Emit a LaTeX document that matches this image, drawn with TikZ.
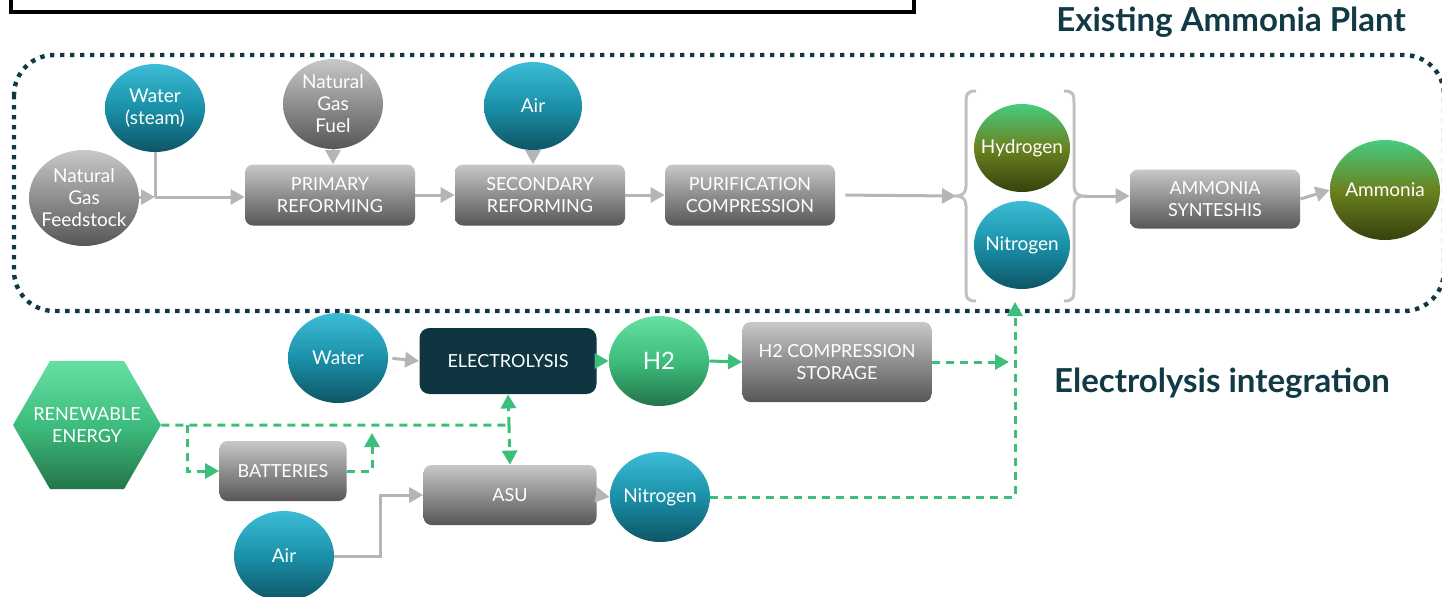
\documentclass[tikz,border=0pt]{standalone}
\usepackage{fontspec}
\setmainfont{Lato}
\usetikzlibrary{arrows.meta,shapes.geometric,calc}
\definecolor{titleC}{HTML}{123A45}
\definecolor{dotC}{HTML}{0F3A45}
\definecolor{lineC}{HTML}{B5B5B5}
\definecolor{grnC}{HTML}{3CBF7A}
\definecolor{elC}{HTML}{0F3540}
\definecolor{tealL}{HTML}{3CBCD6}
\definecolor{tealM}{HTML}{1A90A8}
\definecolor{tealD}{HTML}{0D5565}
\definecolor{grayL}{HTML}{C8C8C8}
\definecolor{grayM}{HTML}{8E8E8E}
\definecolor{grayD}{HTML}{575757}
\definecolor{grnL}{HTML}{66E0A2}
\definecolor{grnM}{HTML}{3DBD7D}
\definecolor{grnD}{HTML}{237549}
\definecolor{oliveL}{HTML}{45CC80}
\definecolor{oliveM}{HTML}{6A821F}
\definecolor{oliveD}{HTML}{36420D}
\begin{document}
\begin{tikzpicture}[x = 0.5pt, y = -0.5pt, every node/.style={anchor = center, font = \fontsize{9}{11}\selectfont, text = white, align = center},
  ball/.style={ellipse, inner sep = -10pt, minimum width = 50pt, minimum height = 45pt, font = \fontsize{9.5}{11}\selectfont},
  tealball/.style={ball, top color = tealL, bottom color = tealD, middle color = tealM},
  grayball/.style={ball, top color = grayL, bottom color = grayD, middle color = grayM},
  grnball/.style={ball, top color = grnL, bottom color = grnD, middle color = grnM},
  oliveball/.style={ball, top color = oliveL, bottom color = oliveD, middle color = oliveM},
  graybox/.style={rounded corners = 4pt, minimum width = 85pt, minimum height = 30.5pt, top color = grayL, bottom color = grayD, middle color = grayM},
  darkbox/.style={rounded corners = 5pt, fill = elC, minimum width = 88.5pt, minimum height = 33pt},
  title/.style={font = \fontsize{16.5}{19}\selectfont\bfseries, text = titleC},
  garrow/.style={draw = lineC, line width = 1.5pt, -{Triangle[length = 7pt, width = 7.5pt]}},
  gline/.style={draw = lineC, line width = 1.5pt},
  grnarrow/.style={draw = grnC, line width = 1.5pt, -{Triangle[length = 7pt, width = 7.5pt]}},
  grndash/.style={draw = grnC, line width = 1.5pt, dash pattern = on 4pt off 3pt},
  bracket/.style={draw = lineC!85!white, line width = 1.5pt}]
\useasboundingbox (0,0) rectangle (1442,596);
\draw[line width = 2pt] (11,-40) rectangle (914,12);
\draw[dotC, line width = 2.2pt, dash pattern = on 2.2pt off 2.8pt, rounded corners = 20pt] (14,55) rectangle (1444,311);
\node[title] (tplant) at (1231,22) {Existing Ammonia Plant};
\node[title] (telec) at (1222,383) {Electrolysis integration};

\node[grayball, minimum width = 55pt, minimum height = 48pt] (ngf) at (84,198) {Natural\\Gas\\Feedstock};
\node[tealball, minimum height = 44pt] (ws) at (155,108) {Water\\(steam)};
\node[grayball] (ngfu) at (333,104) {Natural\\Gas\\Fuel};
\node[tealball, minimum width = 49pt, minimum height = 44pt] (airt) at (533,106) {Air};
\node[graybox] (pr) at (330,195) {PRIMARY\\REFORMING};
\node[graybox] (sr) at (540,195) {SECONDARY\\REFORMING};
\node[graybox] (pc) at (750,195) {PURIFICATION\\COMPRESSION};
\node[oliveball, minimum width = 48pt, minimum height = 44pt] (hyd) at (1022,148) {Hydrogen};
\node[tealball, minimum width = 48pt, minimum height = 44pt] (nitt) at (1022,245) {Nitrogen};
\node[graybox, minimum height = 29.5pt] (as) at (1215,199) {AMMONIA\\SYNTESHIS};
\node[oliveball, minimum width = 55pt, minimum height = 50pt] (amm) at (1385,190) {Ammonia};

\node[tealball] (watl) at (338,358) {Water};
\node[darkbox] (el) at (508,361) {ELECTROLYSIS};
\node[grnball, font = \fontsize{12}{14}\selectfont] (h2) at (659,361) {H2};
\node[graybox, minimum width = 94.5pt, minimum height = 40pt] (h2c) at (837,362) {H2 COMPRESSION\\STORAGE};
\node[regular polygon, regular polygon sides = 6, minimum size = 74pt, inner sep = -14pt, top color = grnL, bottom color = grnD, middle color = grnM] (re) at (87,425) {RENEWABLE\\ENERGY};
\node[graybox, minimum width = 63.5pt, minimum height = 30pt] (bat) at (283,471) {BATTERIES};
\node[graybox, minimum width = 86.5pt, minimum height = 30pt] (asu) at (510,495) {ASU};
\node[tealball] (nitl) at (660,497) {Nitrogen};
\node[tealball] (airl) at (284,556) {Air};

\draw[bracket] (976,91) .. controls (966,91) and (966,95) .. (966,104) -- (966,186) .. controls (966,193) and (962,196) .. (956,196) .. controls (962,196) and (966,199) .. (966,206) -- (966,288) .. controls (966,297) and (966,301) .. (976,301);
\draw[bracket] (1064,91) .. controls (1074,91) and (1074,95) .. (1074,104) -- (1074,186) .. controls (1074,193) and (1078,196) .. (1084,196) .. controls (1078,196) and (1074,199) .. (1074,206) -- (1074,288) .. controls (1074,297) and (1074,301) .. (1064,301);
\coordinate (lbt) at (956,196);
\coordinate (rbt) at (1084,196);
\coordinate (jn) at (155,197);
\coordinate (ab) at (380,556);
\coordinate (rj) at (509,425);
\coordinate (bj) at (187,425);
\coordinate (bup) at (372,433);
\coordinate (nup) at (1015,302);

\draw[garrow] (ngf.east |- jn) -- (jn);
\draw[gline] (ws.south) -- (jn);
\draw[garrow] (jn) -- (jn -| pr.west);
\draw[garrow] (ngfu.south) -- (ngfu.south |- pr.north);
\draw[garrow] (airt.south) -- (airt.south |- sr.north);
\draw[garrow] (pr.east) -- (sr.west);
\draw[garrow] (sr.east) -- (pc.west);
\draw[garrow, shorten <= 5pt] (pc.east) -- (lbt);
\draw[garrow] (rbt) -- (rbt -| as.west);
\draw[garrow] (as.east) -- (amm.west);
\draw[garrow, shorten <= 2pt] (watl.east) -- (el.west);
\draw[garrow] (asu.east) -- (nitl.west);
\draw[garrow] (airl.east) -- (ab) |- (asu.west);

\draw[grnarrow] (el.east) -- (h2.west);
\draw[grnarrow] (h2.east) -- (h2c.west);
\draw[grnarrow, grndash, shorten >= 3pt] (h2c.east) -- (h2c.east -| nup);
\draw[grnarrow, grndash] (nitl.east) -| (nup);
\draw[grndash] (re.east) -- (rj);
\draw[grnarrow, grndash] (rj) -- (el.south);
\draw[grnarrow, grndash] (rj) -- (asu.north);
\draw[grnarrow, grndash] (bj) |- (bat.west);
\draw[grnarrow, grndash] (bat.east) -| (bup);
\end{tikzpicture}
\end{document}
